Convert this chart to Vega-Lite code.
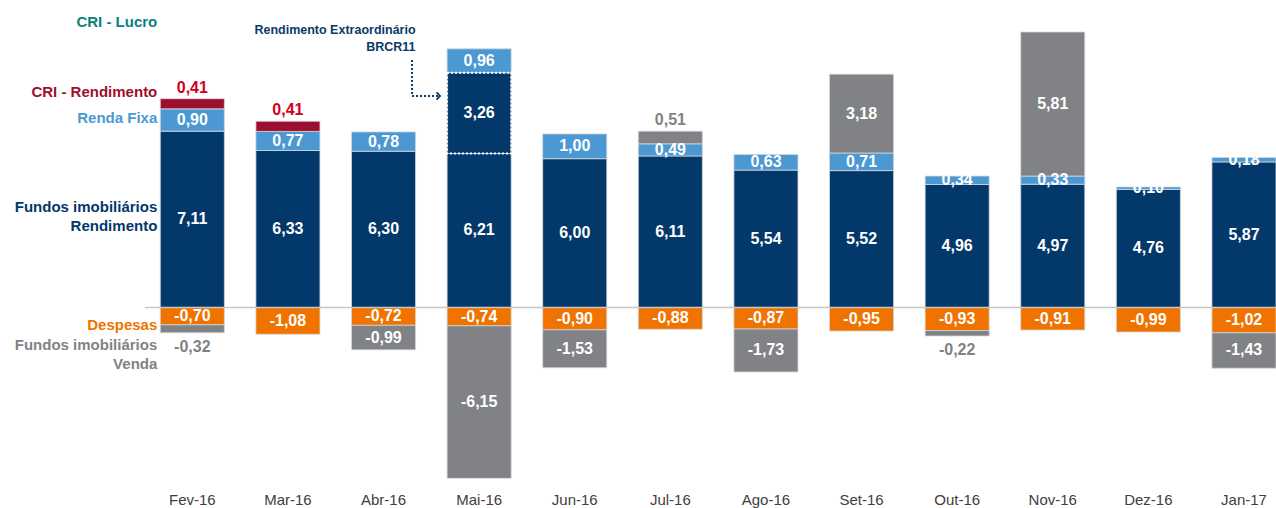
{
  "$schema": "https://vega.github.io/schema/vega-lite/v6.json",
  "width": 1131,
  "height": 486,
  "autosize": {"type": "none"},
  "padding": {"left": 145, "top": 0, "right": 0, "bottom": 22},
  "background": "white",
  "config": {"view": {"stroke": null}, "font": "Liberation Sans"},
  "datasets": {
    "bars": [
      {"m": "Fev-16", "s": "FII Rendimento", "v": 7.11},
      {"m": "Fev-16", "s": "Renda Fixa", "v": 0.90},
      {"m": "Fev-16", "s": "CRI Rendimento", "v": 0.41},
      {"m": "Fev-16", "s": "Despesas", "v": -0.70},
      {"m": "Fev-16", "s": "FII Venda", "v": -0.32},
      {"m": "Mar-16", "s": "FII Rendimento", "v": 6.33},
      {"m": "Mar-16", "s": "Renda Fixa", "v": 0.77},
      {"m": "Mar-16", "s": "CRI Rendimento", "v": 0.41},
      {"m": "Mar-16", "s": "Despesas", "v": -1.08},
      {"m": "Abr-16", "s": "FII Rendimento", "v": 6.30},
      {"m": "Abr-16", "s": "Renda Fixa", "v": 0.78},
      {"m": "Abr-16", "s": "Despesas", "v": -0.72},
      {"m": "Abr-16", "s": "FII Venda", "v": -0.99},
      {"m": "Mai-16", "s": "FII Rendimento", "v": 6.21},
      {"m": "Mai-16", "s": "Extra", "v": 3.26},
      {"m": "Mai-16", "s": "Renda Fixa", "v": 0.96},
      {"m": "Mai-16", "s": "Despesas", "v": -0.74},
      {"m": "Mai-16", "s": "FII Venda", "v": -6.15},
      {"m": "Jun-16", "s": "FII Rendimento", "v": 6.00},
      {"m": "Jun-16", "s": "Renda Fixa", "v": 1.00},
      {"m": "Jun-16", "s": "Despesas", "v": -0.90},
      {"m": "Jun-16", "s": "FII Venda", "v": -1.53},
      {"m": "Jul-16", "s": "FII Rendimento", "v": 6.11},
      {"m": "Jul-16", "s": "Renda Fixa", "v": 0.49},
      {"m": "Jul-16", "s": "FII Venda", "v": 0.51},
      {"m": "Jul-16", "s": "Despesas", "v": -0.88},
      {"m": "Ago-16", "s": "FII Rendimento", "v": 5.54},
      {"m": "Ago-16", "s": "Renda Fixa", "v": 0.63},
      {"m": "Ago-16", "s": "Despesas", "v": -0.87},
      {"m": "Ago-16", "s": "FII Venda", "v": -1.73},
      {"m": "Set-16", "s": "FII Rendimento", "v": 5.52},
      {"m": "Set-16", "s": "Renda Fixa", "v": 0.71},
      {"m": "Set-16", "s": "FII Venda", "v": 3.18},
      {"m": "Set-16", "s": "Despesas", "v": -0.95},
      {"m": "Out-16", "s": "FII Rendimento", "v": 4.96},
      {"m": "Out-16", "s": "Renda Fixa", "v": 0.34},
      {"m": "Out-16", "s": "Despesas", "v": -0.93},
      {"m": "Out-16", "s": "FII Venda", "v": -0.22},
      {"m": "Nov-16", "s": "FII Rendimento", "v": 4.97},
      {"m": "Nov-16", "s": "Renda Fixa", "v": 0.33},
      {"m": "Nov-16", "s": "FII Venda", "v": 5.81},
      {"m": "Nov-16", "s": "Despesas", "v": -0.91},
      {"m": "Dez-16", "s": "FII Rendimento", "v": 4.76},
      {"m": "Dez-16", "s": "Renda Fixa", "v": 0.10},
      {"m": "Dez-16", "s": "Despesas", "v": -0.99},
      {"m": "Jan-17", "s": "FII Rendimento", "v": 5.87},
      {"m": "Jan-17", "s": "Renda Fixa", "v": 0.18},
      {"m": "Jan-17", "s": "Despesas", "v": -1.02},
      {"m": "Jan-17", "s": "FII Venda", "v": -1.43}
    ],
    "side": [
      {"m": "Fev-16", "s": "CRI Lucro", "t": "CRI - Lucro", "y": 11.5},
      {"m": "Fev-16", "s": "CRI Rendimento", "t": "CRI - Rendimento", "y": 8.7},
      {"m": "Fev-16", "s": "Renda Fixa", "t": "Renda Fixa", "y": 7.65},
      {"m": "Fev-16", "s": "FII Rendimento", "t": "Fundos imobiliários\nRendimento", "y": 4.05},
      {"m": "Fev-16", "s": "Despesas", "t": "Despesas", "y": -0.71},
      {"m": "Fev-16", "s": "FII Venda", "t": "Fundos imobiliários\nVenda", "y": -1.51}
    ],
    "note": [
      {"m": "Abr-16", "t": "Rendimento Extraordinário\nBRCR11", "yt": 11.19, "ya": 8.53}
    ]
  },
  "layer": [
    {
      "data": {"name": "bars"},
      "transform": [
        {"calculate": "indexof(['FII Rendimento','Extra','Renda Fixa','CRI Rendimento','Despesas','FII Venda'], datum.s)", "as": "ord"},
        {"stack": "v", "groupby": ["m"], "sort": [{"field": "ord", "order": "ascending"}], "as": ["y0", "y1"]},
        {"calculate": "(datum.y0 + datum.y1) / 2", "as": "mid"},
        {"calculate": "replace(replace(format(datum.v, '.2f'), '.', ','), '\u2212', '-')", "as": "lab"}
      ],
      "layer": [
        {
          "mark": {"type": "bar", "stroke": "#d3d7dc", "strokeWidth": 0.8},
          "encoding": {
            "x": {
              "field": "m", "type": "nominal", "sort": null,
              "scale": {"domain": ["Fev-16","Mar-16","Abr-16","Mai-16","Jun-16","Jul-16","Ago-16","Set-16","Out-16","Nov-16","Dez-16","Jan-17"], "paddingInner": 0.33, "paddingOuter": 0.08, "align": 1},
              "axis": {"title": null, "domain": false, "ticks": false, "labelPadding": 6, "labelFontSize": 15, "labelColor": "#404040", "labelAngle": 0, "labelOverlap": false, "labelFont": "Liberation Sans"}
            },
            "y": {"field": "y0", "type": "quantitative", "scale": {"domain": [-7.2, 12.4], "nice": false, "zero": false}, "axis": null},
            "y2": {"field": "y1"},
            "color": {
              "field": "s", "type": "nominal", "legend": null,
              "scale": {"domain": ["FII Rendimento","Extra","Renda Fixa","CRI Rendimento","Despesas","FII Venda","CRI Lucro"], "range": ["#03386a","#03386a","#4b98d3","#9c0f2e","#f07300","#818285","#0e7f80"]}
            }
          }
        },
        {
          "transform": [{"filter": "datum.s == 'Extra'"}],
          "mark": {"type": "bar", "fillOpacity": 0, "stroke": "white", "strokeWidth": 2, "strokeDash": [2, 2]},
          "encoding": {
            "x": {"field": "m", "type": "nominal", "sort": null},
            "y": {"field": "y0", "type": "quantitative"},
            "y2": {"field": "y1"}
          }
        },
        {
          "transform": [{"filter": "datum.s != 'CRI Rendimento' && !(datum.s == 'FII Venda' && abs(datum.v) < 0.6)"}],
          "mark": {"type": "text", "color": "white", "fontWeight": "bold", "fontSize": 16, "baseline": "middle", "align": "center"},
          "encoding": {
            "x": {"field": "m", "type": "nominal", "sort": null},
            "y": {"field": "mid", "type": "quantitative"},
            "text": {"field": "lab"}
          }
        },
        {
          "transform": [{"filter": "datum.s == 'CRI Rendimento' || (datum.s == 'FII Venda' && datum.v > 0 && datum.v < 0.6)"}],
          "mark": {"type": "text", "fontWeight": "bold", "fontSize": 16, "baseline": "alphabetic", "align": "center", "dy": -6},
          "encoding": {
            "x": {"field": "m", "type": "nominal", "sort": null},
            "y": {"field": "y1", "type": "quantitative"},
            "text": {"field": "lab"},
            "color": {"condition": {"test": "datum.s == 'CRI Rendimento'", "value": "#d0021b"}, "value": "#818285"}
          }
        },
        {
          "transform": [{"filter": "datum.s == 'FII Venda' && datum.v < 0 && datum.v > -0.6"}],
          "mark": {"type": "text", "fontWeight": "bold", "fontSize": 16, "baseline": "top", "align": "center", "dy": 6, "color": "#818285"},
          "encoding": {
            "x": {"field": "m", "type": "nominal", "sort": null},
            "y": {"field": "y1", "type": "quantitative"},
            "text": {"field": "lab"}
          }
        }
      ]
    },
    {
      "data": {"values": [{}]},
      "mark": {"type": "rule", "color": "#c6c6c6", "strokeWidth": 1.5},
      "encoding": {"y": {"datum": 0, "type": "quantitative"}}
    },
    {
      "data": {"name": "side"},
      "mark": {"type": "text", "align": "right", "baseline": "middle", "fontWeight": "bold", "fontSize": 15, "lineBreak": "\n", "lineHeight": 19, "dx": -3},
      "encoding": {
        "x": {"field": "m", "type": "nominal", "sort": null, "bandPosition": 0},
        "y": {"field": "y", "type": "quantitative"},
        "text": {"field": "t"},
        "color": {
          "field": "s", "type": "nominal", "legend": null,
          "scale": {"domain": ["FII Rendimento","Extra","Renda Fixa","CRI Rendimento","Despesas","FII Venda","CRI Lucro"], "range": ["#03386a","#03386a","#4b98d3","#9c0f2e","#f07300","#818285","#0e7f80"]}
        }
      }
    },
    {
      "data": {"name": "note"},
      "mark": {"type": "text", "align": "right", "baseline": "middle", "fontWeight": "bold", "fontSize": 12.5, "lineBreak": "\n", "lineHeight": 17, "color": "#0a3a66"},
      "encoding": {
        "x": {"field": "m", "type": "nominal", "sort": null, "bandPosition": 1.0},
        "y": {"field": "yt", "type": "quantitative"},
        "text": {"field": "t"}
      }
    },
    {
      "data": {"name": "note"},
      "mark": {"type": "point", "shape": "M0,-1L0,0L0.72,0", "size": 5184, "filled": false, "stroke": "#0a3a66", "strokeWidth": 2, "strokeDash": [2, 2], "opacity": 1},
      "encoding": {
        "x": {"field": "m", "type": "nominal", "sort": null, "bandPosition": 0.945},
        "y": {"field": "ya", "type": "quantitative"}
      }
    },
    {
      "data": {"name": "note"},
      "mark": {"type": "point", "shape": "M0.68,-0.1L0.78,0L0.68,0.1", "size": 5184, "filled": false, "stroke": "#0a3a66", "strokeWidth": 1.8, "opacity": 1},
      "encoding": {
        "x": {"field": "m", "type": "nominal", "sort": null, "bandPosition": 0.945},
        "y": {"field": "ya", "type": "quantitative"}
      }
    }
  ]
}
